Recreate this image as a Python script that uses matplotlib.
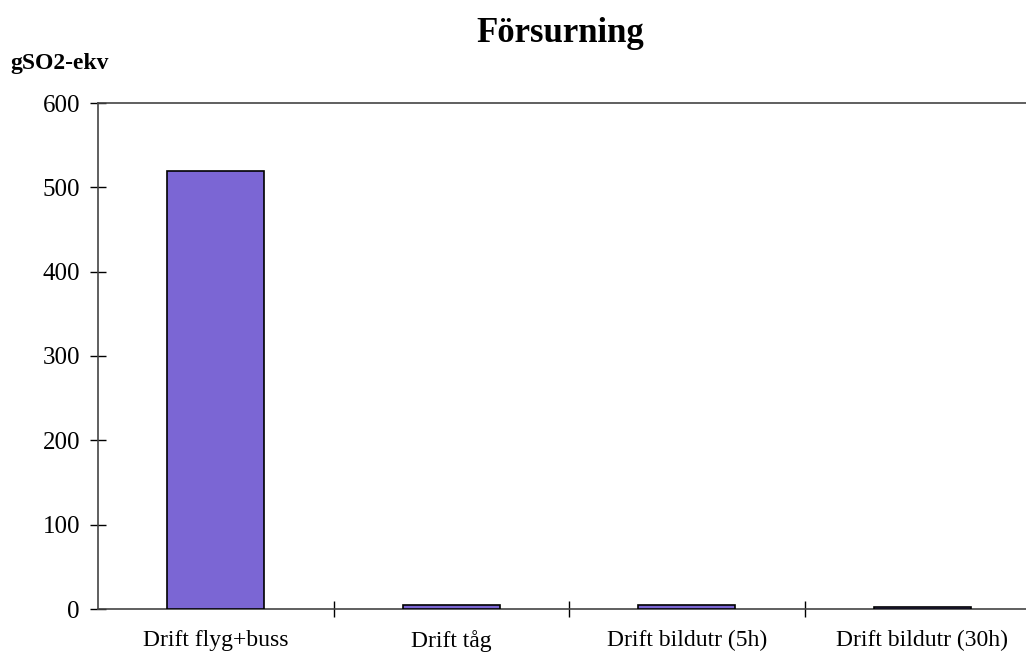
import matplotlib
matplotlib.use("Agg")
import matplotlib.pyplot as plt

categories = ['Drift flyg+buss', 'Drift tåg', 'Drift bildutr (5h)', 'Drift bildutr (30h)']
values = [519, 5, 5, 2]

plt.rcParams['font.family'] = ['Liberation Serif', 'DejaVu Serif']

fig = plt.figure(figsize=(10.26, 6.6), dpi=100)
# the plot area runs slightly past the right edge of the figure
ax = fig.add_axes([98 / 1026, 51 / 660, 942 / 1026, 506 / 660])

xs = list(range(len(categories)))
ax.bar(xs, values, width=0.41, color='#7b66d4', edgecolor='black', linewidth=1.2, zorder=3)

ax.set_xlim(-0.5, len(categories) - 0.5)
ax.set_ylim(0, 600)
ax.set_yticks(range(0, 601, 100))
ax.tick_params(axis='y', direction='inout', length=12, width=1, labelsize=18, pad=7)

# category names centred under bars, tick marks on the category boundaries
ax.set_xticks(xs)
ax.set_xticklabels(categories, fontsize=17)
ax.tick_params(axis='x', which='major', length=0, pad=15)
ax.set_xticks([x + 0.5 for x in xs[:-1]], minor=True)
ax.tick_params(axis='x', which='minor', direction='inout', length=12, width=1)

for side in ['left', 'bottom', 'top']:
    ax.spines[side].set_color('#444444')
    ax.spines[side].set_linewidth(1.2)
ax.spines['right'].set_visible(False)

fig.text(560 / 1026, 1 - 33 / 660, 'Försurning', ha='center', va='center',
         fontsize=25, fontweight='bold')
fig.text(10 / 1026, 1 - 64 / 660, 'gSO2-ekv', ha='left', va='center',
         fontsize=17, fontweight='bold')

fig.savefig('out.png', dpi=100)
